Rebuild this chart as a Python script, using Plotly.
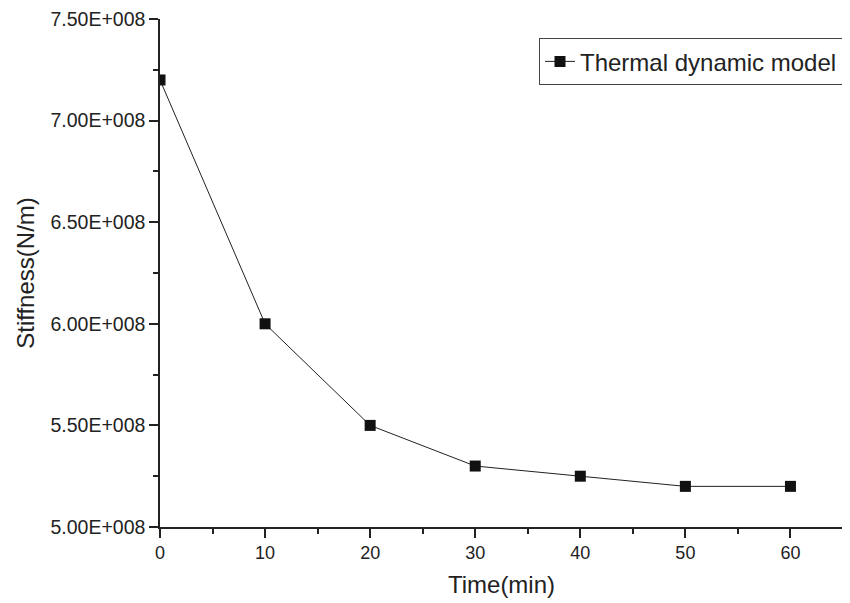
import plotly.graph_objects as go

time_min = [0, 10, 20, 30, 40, 50, 60]
stiffness = [7.2e8, 6.0e8, 5.5e8, 5.3e8, 5.25e8, 5.2e8, 5.2e8]
series_name = "Thermal dynamic model"

y_tickvals = [5.0e8, 5.5e8, 6.0e8, 6.5e8, 7.0e8, 7.5e8]
y_ticktext = ["5.00E+008", "5.50E+008", "6.00E+008", "6.50E+008", "7.00E+008", "7.50E+008"]
x_tickvals = [0, 10, 20, 30, 40, 50, 60]

FONT = "Liberation Sans, Arial, sans-serif"

fig = go.Figure()
fig.add_trace(go.Scatter(
    x=time_min, y=stiffness, name=series_name, mode="lines+markers",
    line=dict(color="#222222", width=1),
    marker=dict(symbol="square", size=11, color="#111111"),
    showlegend=True,
))

# page body has an 8px default margin, so the figure is offset by (8, 8)
fig.update_layout(
    width=842, height=595,
    margin=dict(l=152, r=7, t=11, b=76),
    plot_bgcolor="white", paper_bgcolor="white",
    font=dict(family=FONT, size=20, color="#222222"),
    showlegend=True,
    legend=dict(
        x=1, y=0.962, xanchor="right", yanchor="top",
        bgcolor="white", bordercolor="#444444", borderwidth=1,
        font=dict(family=FONT, size=24, color="#222222"),
        tracegroupgap=0,
    ),
    xaxis=dict(
        range=[0, 65], tickvals=x_tickvals, automargin=False,
        showgrid=False, zeroline=False,
        showline=True, linecolor="#222222", linewidth=1.5,
        ticks="outside", ticklen=9, tickwidth=1.5, tickcolor="#222222",
        minor=dict(dtick=5, ticks="outside", ticklen=5, tickwidth=1.5, tickcolor="#222222"),
        tickfont=dict(size=18),
        title=dict(text="Time(min)", font=dict(size=24), standoff=14),
    ),
    yaxis=dict(
        range=[5.0e8, 7.5e8], tickvals=y_tickvals, ticktext=y_ticktext, automargin=False,
        ticklabeloverflow="allow",
        showgrid=False, zeroline=False,
        showline=True, linecolor="#222222", linewidth=1.5,
        ticks="outside", ticklen=9, tickwidth=1.5, tickcolor="#222222",
        minor=dict(tickvals=[5.25e8, 5.75e8, 6.25e8, 6.75e8, 7.25e8], ticks="outside", ticklen=5, tickwidth=1.5, tickcolor="#222222"),
        tickfont=dict(size=19.5),
        title=dict(text="Stiffness(N/m)", font=dict(size=24), standoff=9),
    ),
)

fig.write_html("out.html")
